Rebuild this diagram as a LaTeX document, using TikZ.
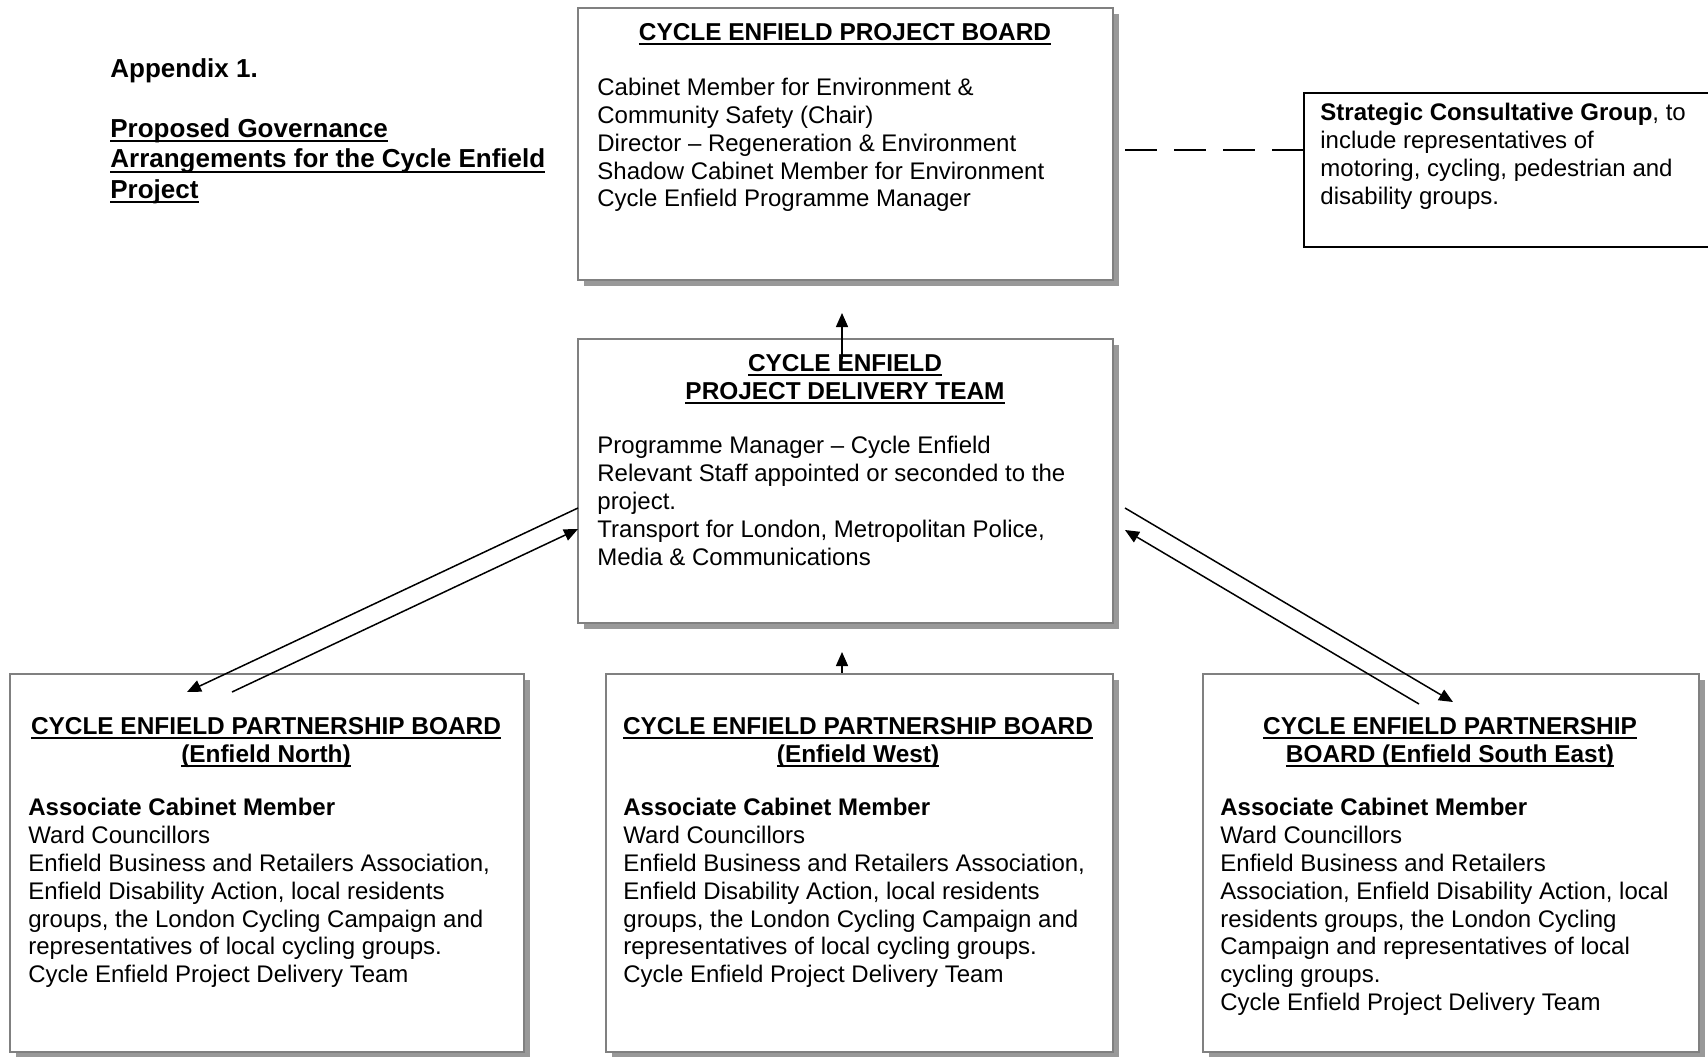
\documentclass[tikz,border=0pt]{standalone}
\usepackage{fontspec}
\setmainfont{Liberation Sans}
\usetikzlibrary{shadows,arrows.meta}

% underline a piece of text with a thick rule
\newcommand{\undertext}[1]{\setbox0\hbox{#1}\rlap{\rule[-2.4pt]{\wd0}{0.9pt}}\box0}

\tikzset{
  board/.style={draw=black!50, line width=1.1pt, fill=white, inner sep=0pt,
    drop shadow={shadow xshift=3pt, shadow yshift=-3pt, fill=black!40, opacity=1}},
  plainbox/.style={draw=black, line width=0.8pt, fill=white, inner sep=0pt},
  boardtitle/.style={anchor=north, align=center, inner sep=0pt,
    font=\fontsize{12.2}{13.9}\selectfont\bfseries},
  boardtext/.style={anchor=north west, align=left, inner sep=0pt,
    font=\fontsize{12}{13.9}\selectfont},
  heading/.style={anchor=north west, align=left, inner sep=0pt,
    font=\fontsize{13}{15.25}\selectfont\bfseries},
  link/.style={line width=0.75pt, -{Triangle[length=7pt,width=6pt]}},
  dashline/.style={line width=0.75pt, dash pattern=on 16pt off 8.5pt},
}

\begin{document}
\begin{tikzpicture}[x=0.5pt,y=-0.5pt]
  \useasboundingbox[fill=white] (0,0) rectangle (1708,1056);

  % Heading
  \node[heading] (appx) at (110,58) {Appendix 1.};
  \node[heading] (heading) at (110,118) {\undertext{Proposed Governance}\\
    \undertext{Arrangements for the Cycle Enfield}\\ \undertext{Project}};

  % Boxes
  \node[board, minimum width=267.5pt, minimum height=136pt] (pb) at (845.5,144) {};
  \node[board, minimum width=267.5pt, minimum height=142pt] (pdt) at (845.5,481) {};
  \node[plainbox, minimum width=208pt, minimum height=77pt] (scg) at (1512,170) {};
  \node[board, minimum width=257pt, minimum height=189pt] (cen) at (267,863) {};
  \node[board, minimum width=253.5pt, minimum height=189pt] (cew) at (859.5,863) {};
  \node[board, minimum width=248pt, minimum height=189pt] (cese) at (1451,863) {};

  % Project board
  \node[boardtitle] (pbtitle) at (845,23) {\undertext{CYCLE ENFIELD PROJECT BOARD}};
  \node[boardtext] (pbtext) at (597,78) {Cabinet Member for Environment \&\\
    Community Safety (Chair)\\
    Director -- Regeneration \& Environment\\
    Shadow Cabinet Member for Environment\\
    Cycle Enfield Programme Manager};

  % Delivery team
  \node[boardtitle] (pdttitle) at (845,354) {\undertext{CYCLE ENFIELD}\\
    \undertext{PROJECT DELIVERY TEAM}};
  \node[boardtext] (pdttext) at (597,436) {Programme Manager -- Cycle Enfield\\
    Relevant Staff appointed or seconded to the\\
    project.\\
    Transport for London, Metropolitan Police,\\
    Media \& Communications};

  % Consultative group
  \node[boardtext] (scgtext) at (1320,103) {\textbf{Strategic Consultative Group}, to\\
    include representatives of\\
    motoring, cycling, pedestrian and\\
    disability groups.};

  % Partnership boards
  \node[boardtitle] (centitle) at (266,717) {\undertext{CYCLE ENFIELD PARTNERSHIP BOARD}\\
    \undertext{(Enfield North)}};
  \node[boardtext] (centext) at (28,798) {\textbf{Associate Cabinet Member}\\
    Ward Councillors\\
    Enfield Business and Retailers Association,\\
    Enfield Disability Action, local residents\\
    groups, the London Cycling Campaign and\\
    representatives of local cycling groups.\\
    Cycle Enfield Project Delivery Team};

  \node[boardtitle] (cewtitle) at (858,717) {\undertext{CYCLE ENFIELD PARTNERSHIP BOARD}\\
    \undertext{(Enfield West)}};
  \node[boardtext] (cewtext) at (623,798) {\textbf{Associate Cabinet Member}\\
    Ward Councillors\\
    Enfield Business and Retailers Association,\\
    Enfield Disability Action, local residents\\
    groups, the London Cycling Campaign and\\
    representatives of local cycling groups.\\
    Cycle Enfield Project Delivery Team};

  \node[boardtitle] (cesetitle) at (1450,717) {\undertext{CYCLE ENFIELD PARTNERSHIP}\\
    \undertext{BOARD (Enfield South East)}};
  \node[boardtext] (cesetext) at (1220,798) {\textbf{Associate Cabinet Member}\\
    Ward Councillors\\
    Enfield Business and Retailers\\
    Association, Enfield Disability Action, local\\
    residents groups, the London Cycling\\
    Campaign and representatives of local\\
    cycling groups.\\
    Cycle Enfield Project Delivery Team};

  % Connector ends
  \coordinate (pbin) at (842,313);
  \coordinate (pdtout) at (842,359);
  \coordinate (cewup) at (842,652);
  \coordinate (pdtw1) at (578,508);
  \coordinate (pdtw2) at (578,529);
  \coordinate (cen1) at (187,692);
  \coordinate (cen2) at (232,692);
  \coordinate (pdte1) at (1125,508);
  \coordinate (pdte2) at (1125,530);
  \coordinate (cese1) at (1453,702);
  \coordinate (cese2) at (1419,704);
  \coordinate (pbright) at (1125,150);

  % Connectors
  \draw[link] (pdtout) -- (pbin);
  \draw[link] (pbin |- cew.north) -- (cewup);
  \draw[link] (pdtw1) -- (cen1);
  \draw[link] (cen2) -- (pdtw2);
  \draw[link] (pdte1) -- (cese1);
  \draw[link] (cese2) -- (pdte2);
  \draw[dashline] (pbright) -- (pbright -| scg.west);
\end{tikzpicture}
\end{document}
